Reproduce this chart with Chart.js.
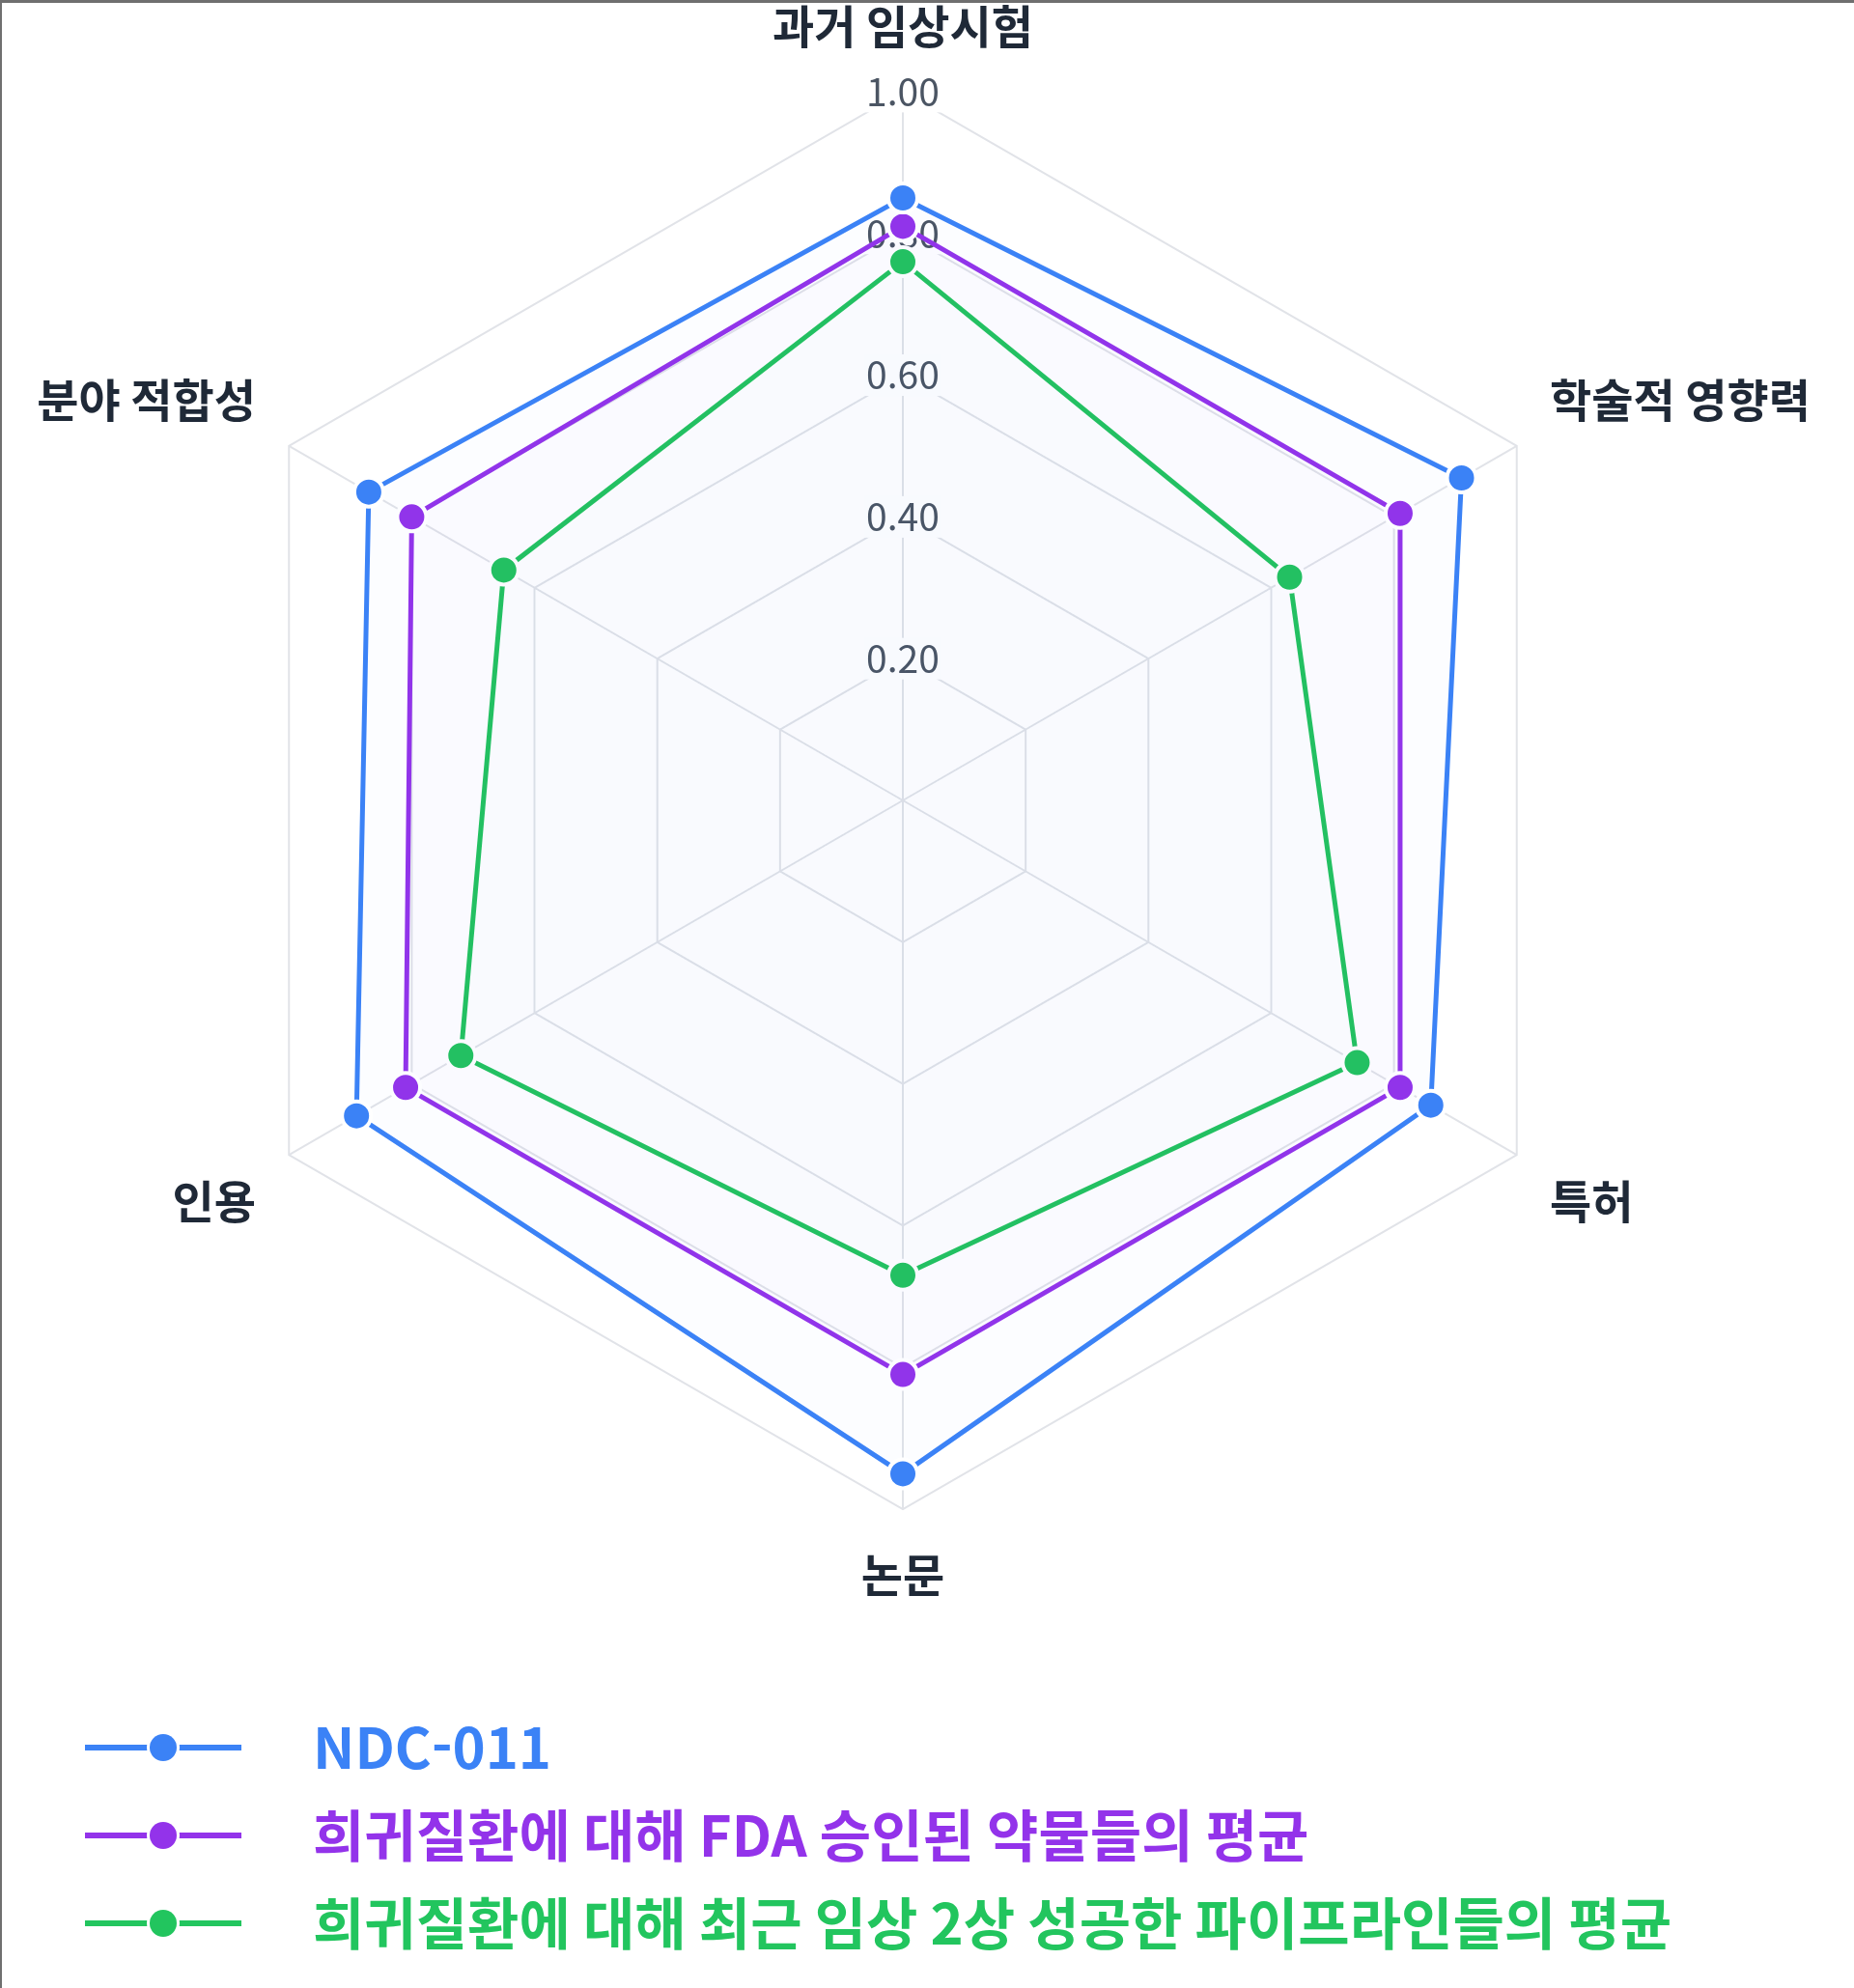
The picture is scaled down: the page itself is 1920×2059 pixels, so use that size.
<!DOCTYPE html>
<html lang="ko">
<head>
<meta charset="utf-8">
<script src="https://cdn.jsdelivr.net/npm/chart.js@4.4.1/dist/chart.umd.min.js"></script>
<style>
  html, body { margin: 0; padding: 0; background: #fff; }
  #wrap { position: relative; width: 1920px; height: 2059px; overflow: hidden; }
  #wrap canvas { position: absolute; left: 0; top: 0; }
  #frame { position: absolute; left: 0; top: 0; width: 1920px; height: 2059px;
           border-top: 3px solid #6f6f6f; border-left: 2px solid #6f6f6f; box-sizing: border-box; pointer-events: none; }
</style>
</head>
<body>
<div id="wrap">
  <canvas id="chart" width="1920" height="2059"></canvas>
  <div id="frame"></div>
</div>
<script>
const categories = ['과거 임상시험', '학술적 영향력', '특허', '논문', '인용', '분야 적합성'];
const seriesNames = ['NDC-011', '희귀질환에 대해 FDA 승인된 약물들의 평균', '희귀질환에 대해 최근 임상 2상 성공한 파이프라인들의 평균'];
const ndc011 = [0.85, 0.91, 0.86, 0.95, 0.89, 0.87];
const fdaApproved = [0.81, 0.81, 0.81, 0.81, 0.81, 0.80];
const phase2Success = [0.76, 0.63, 0.74, 0.67, 0.72, 0.65];
const tickValues = [0.2, 0.4, 0.6, 0.8, 1.0];

const colors = ['#3b82f6', '#9333ea', '#22c55e'];
const fills = ['rgba(59,130,246,0.014)', 'rgba(147,51,234,0.014)', 'rgba(34,197,94,0.008)'];
const FONT = '"Noto Sans CJK KR", "Noto Sans", sans-serif';

const stackedLegend = {
  id: 'stackedLegend',
  afterDraw(chart, args, o) {
    const ctx = chart.ctx;
    ctx.save();
    chart.data.datasets.forEach((ds, i) => {
      const y = o.top + i * o.rowGap;
      const cx = o.left + o.markerWidth / 2;
      ctx.strokeStyle = ds.borderColor;
      ctx.lineWidth = o.lineWidth;
      ctx.lineCap = 'butt';
      ctx.beginPath();
      ctx.moveTo(o.left, y);
      ctx.lineTo(o.left + o.markerWidth, y);
      ctx.stroke();
      ctx.fillStyle = '#ffffff';
      ctx.beginPath();
      ctx.arc(cx, y, o.dotRadius + o.gap, 0, Math.PI * 2);
      ctx.fill();
      ctx.fillStyle = ds.borderColor;
      ctx.beginPath();
      ctx.arc(cx, y, o.dotRadius, 0, Math.PI * 2);
      ctx.fill();
      ctx.font = 'bold ' + o.fontSize + 'px ' + FONT;
      ctx.textBaseline = 'middle';
      ctx.textAlign = 'left';
      ctx.fillText(ds.label, o.textLeft, y);
    });
    ctx.restore();
  }
};

const datasets = [ndc011, fdaApproved, phase2Success].map((vals, i) => ({
  label: seriesNames[i],
  data: vals,
  borderColor: colors[i],
  backgroundColor: fills[i],
  fill: true,
  borderWidth: 5,
  pointRadius: 15,
  pointHoverRadius: 15,
  pointBackgroundColor: colors[i],
  pointBorderColor: '#ffffff',
  pointBorderWidth: 4
}));

new Chart(document.getElementById('chart'), {
  type: 'radar',
  data: { labels: categories, datasets },
  options: {
    responsive: false,
    animation: false,
    layout: { padding: { top: 0, left: 0, right: 0, bottom: 399 } },
    plugins: {
      legend: { display: false },
      tooltip: { enabled: false },
      stackedLegend: { top: 1810, rowGap: 91, left: 88, markerWidth: 162, textLeft: 324, lineWidth: 6, dotRadius: 14, gap: 3, fontSize: 58 }
    },
    scales: {
      r: {
        min: 0,
        max: 1,
        afterBuildTicks(scale) { scale.ticks = [0].concat(tickValues).map(v => ({ value: v })); },
        ticks: {
          stepSize: 0.2,
          callback: v => v.toFixed(2),
          color: '#4b5563',
          font: { family: FONT, size: 39 },
          backdropColor: '#ffffff',
          backdropPadding: 2
        },
        pointLabels: {
          color: '#1f2937',
          font: { family: FONT, size: 47, weight: 'bold' },
          padding: 18
        },
        grid: { color: '#e1e3e8', lineWidth: 2 },
        angleLines: { color: '#e1e3e8', lineWidth: 2 }
      }
    }
  },
  plugins: [stackedLegend]
});
</script>
</body>
</html>
